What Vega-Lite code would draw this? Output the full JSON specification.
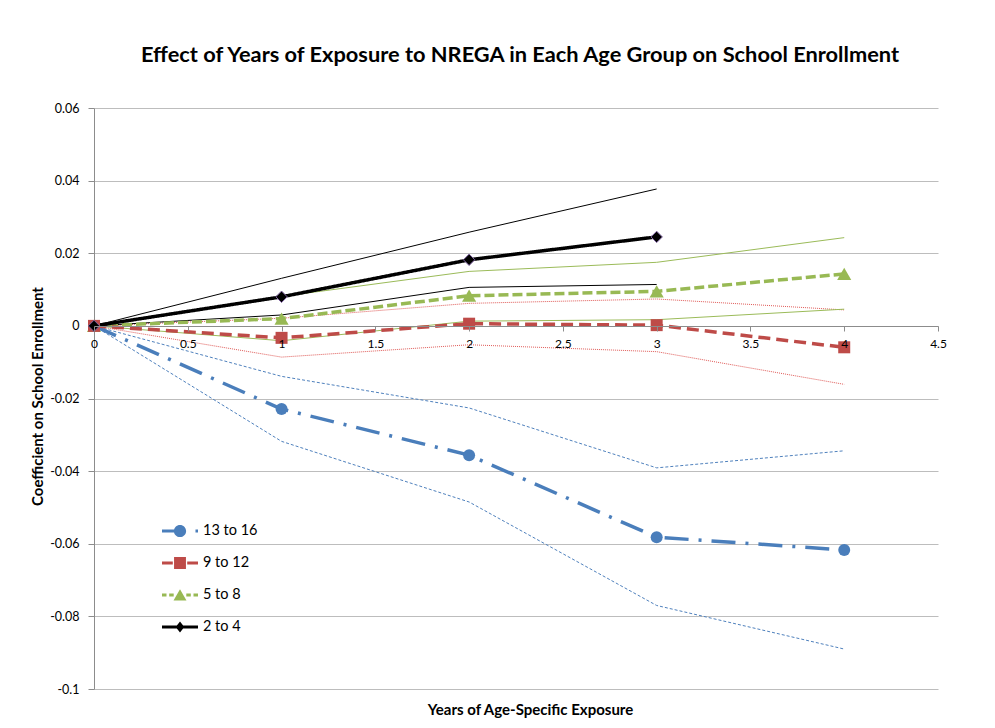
{
  "$schema": "https://vega.github.io/schema/vega-lite/v6.json",
  "width": 844,
  "height": 581,
  "autosize": {"type": "none"},
  "padding": {"left": 94, "top": 108, "right": 57, "bottom": 39},
  "background": "white",
  "config": {"view": {"stroke": null}, "font": "Lato"},
  "title": {
    "text": "Effect of Years of Exposure to NREGA in Each Age Group on School Enrollment",
    "fontSize": 21.8,
    "fontWeight": "bold",
    "font": "Lato",
    "color": "#000000",
    "anchor": "middle",
    "frame": "group",
    "baseline": "alphabetic",
    "offset": 18,
    "dx": 4
  },
  "data": {
    "values": [
      {"group": "13 to 16", "x": 0, "y": 0, "lo": 0, "hi": 0},
      {"group": "13 to 16", "x": 1, "y": -0.0229, "lo": -0.0318, "hi": -0.0139},
      {"group": "13 to 16", "x": 2, "y": -0.0356, "lo": -0.0485, "hi": -0.0226},
      {"group": "13 to 16", "x": 3, "y": -0.0582, "lo": -0.077, "hi": -0.0391},
      {"group": "13 to 16", "x": 4, "y": -0.0617, "lo": -0.089, "hi": -0.0344},
      {"group": "5 to 8", "x": 0, "y": 0, "lo": 0, "hi": 0},
      {"group": "5 to 8", "x": 1, "y": 0.002, "lo": -0.0041, "hi": 0.0081},
      {"group": "5 to 8", "x": 2, "y": 0.0083, "lo": 0.0013, "hi": 0.015},
      {"group": "5 to 8", "x": 3, "y": 0.0095, "lo": 0.0017, "hi": 0.0175},
      {"group": "5 to 8", "x": 4, "y": 0.0143, "lo": 0.0046, "hi": 0.0243},
      {"group": "9 to 12", "x": 0, "y": 0, "lo": 0, "hi": 0},
      {"group": "9 to 12", "x": 1, "y": -0.0033, "lo": -0.0086, "hi": 0.0021},
      {"group": "9 to 12", "x": 2, "y": 0.0006, "lo": -0.0052, "hi": 0.0062},
      {"group": "9 to 12", "x": 3, "y": 0.0002, "lo": -0.0071, "hi": 0.0074},
      {"group": "9 to 12", "x": 4, "y": -0.0059, "lo": -0.0161, "hi": 0.0044},
      {"group": "2 to 4", "x": 0, "y": 0, "lo": 0, "hi": 0},
      {"group": "2 to 4", "x": 1, "y": 0.008, "lo": 0.003, "hi": 0.0131},
      {"group": "2 to 4", "x": 2, "y": 0.0182, "lo": 0.0106, "hi": 0.0258},
      {"group": "2 to 4", "x": 3, "y": 0.0245, "lo": 0.0114, "hi": 0.0377}
    ]
  },
  "transform": [{"fold": ["y", "lo", "hi"], "as": ["bound", "val"]}],
  "encoding": {
    "x": {
      "field": "x",
      "type": "quantitative",
      "scale": {"domain": [0, 4.5], "nice": false, "zero": false},
      "axis": {
        "values": [0, 0.5, 1, 1.5, 2, 2.5, 3, 3.5, 4, 4.5],
        "labelExpr": "format(datum.value, '~g')",
        "offset": -363,
        "zindex": 1,
        "grid": false,
        "domainColor": "#8c8c8c",
        "domainWidth": 1,
        "tickColor": "#8c8c8c",
        "tickSize": 5,
        "labelFontSize": 12,
        "labelColor": "#000000",
        "labelPadding": 7,
        "labelFlush": false,
        "title": "Years of Age-Specific Exposure",
        "titleFontSize": 15,
        "titleFontWeight": "bold",
        "titleColor": "#000000",
        "titleX": 436,
        "titleAlign": "center",
        "titleY": 383,
        "titleBaseline": "middle"
      }
    },
    "y": {
      "field": "val",
      "type": "quantitative",
      "scale": {"domain": [-0.1, 0.06], "nice": false, "zero": false},
      "axis": {
        "values": [-0.1, -0.08, -0.06, -0.04, -0.02, 0, 0.02, 0.04, 0.06],
        "labelExpr": "replace(format(datum.value, '~g'), '−', '-')",
        "grid": true,
        "gridColor": "#bdbdbd",
        "gridWidth": 1,
        "domainColor": "#8c8c8c",
        "tickColor": "#8c8c8c",
        "tickSize": 6,
        "labelFontSize": 12.5,
        "labelColor": "#000000",
        "labelPadding": 9,
        "title": "Coefficient on School Enrollment",
        "titleFontSize": 15,
        "titleFontWeight": "bold",
        "titleColor": "#000000",
        "titleX": -57,
        "titleY": 288,
        "titleBaseline": "middle"
      }
    }
  },
  "layer": [
    {
      "transform": [{"filter": "datum.bound === 'y' && datum.x === 0"}],
      "mark": {"type": "point", "filled": true, "opacity": 0, "size": 1296, "strokeWidth": 0},
      "encoding": {
        "color": {
          "field": "group",
          "type": "nominal",
          "scale": {
            "domain": ["13 to 16", "9 to 12", "5 to 8", "2 to 4"],
            "range": ["#4A7EBB", "#BE4B48", "#98B954", "#000000"]
          },
          "legend": {
            "title": null,
            "orient": "none",
            "legendX": 68,
            "legendY": 405,
            "direction": "vertical",
            "symbolSize": 1296,
            "symbolStrokeWidth": 0,
            "symbolOpacity": 1,
            "labelFontSize": 14.5,
            "labelColor": "#000000",
            "labelOffset": 5,
            "rowPadding": 7,
            "padding": 0
          }
        },
        "shape": {
          "field": "group",
          "type": "nominal",
          "scale": {
            "domain": ["13 to 16", "9 to 12", "5 to 8", "2 to 4"],
            "range": [
              "M-1,-0.09H-0.3V0.09H-1Z M0.34,0A0.34,0.34 0 1 1 -0.34,0A0.34,0.34 0 1 1 0.34,0Z M0.86,-0.09H1V0.09H0.86Z",
              "M-1,-0.09H-0.4V0.09H-1Z M-0.33,-0.33H0.33V0.33H-0.33Z M0.4,-0.09H1V0.09H0.4Z",
              "M-1,-0.09H-0.75V0.09H-1Z M-0.6,-0.09H-0.35V0.09H-0.6Z M0,-0.32L0.36,0.3H-0.36Z M0.35,-0.09H0.6V0.09H0.35Z M0.75,-0.09H1V0.09H0.75Z",
              "M-1,-0.09H1V0.09H-1Z M0,-0.3L0.24,0L0,0.3L-0.24,0Z"
            ]
          }
        }
      }
    },
    {
      "transform": [{"filter": "datum.bound !== 'y' && datum.group === '13 to 16'"}],
      "mark": {"type": "line", "color": "#4F81BD", "strokeWidth": 1, "strokeDash": [3, 2]},
      "encoding": {"detail": {"field": "bound", "type": "nominal"}}
    },
    {
      "transform": [{"filter": "datum.bound !== 'y' && datum.group === '9 to 12'"}],
      "mark": {"type": "line", "color": "#E05A57", "strokeWidth": 1, "strokeDash": [1, 1]},
      "encoding": {"detail": {"field": "bound", "type": "nominal"}}
    },
    {
      "transform": [{"filter": "datum.bound !== 'y' && datum.group === '5 to 8'"}],
      "mark": {"type": "line", "color": "#9BBB59", "strokeWidth": 1},
      "encoding": {"detail": {"field": "bound", "type": "nominal"}}
    },
    {
      "transform": [{"filter": "datum.bound !== 'y' && datum.group === '2 to 4'"}],
      "mark": {"type": "line", "color": "#000000", "strokeWidth": 1},
      "encoding": {"detail": {"field": "bound", "type": "nominal"}}
    },
    {
      "transform": [{"filter": "datum.bound === 'y'"}],
      "mark": {"type": "line", "strokeWidth": 3.5},
      "encoding": {
        "color": {"field": "group", "type": "nominal"},
        "strokeDash": {
          "field": "group",
          "type": "nominal",
          "scale": {
            "domain": ["13 to 16", "9 to 12", "5 to 8", "2 to 4"],
            "range": [[24, 10, 3, 10], [12, 6], [10, 4], [1, 0]]
          },
          "legend": null
        }
      }
    },
    {
      "transform": [{"filter": "datum.bound === 'y' && datum.group === '13 to 16'"}],
      "mark": {"type": "point", "filled": true, "opacity": 1, "shape": "circle", "size": 144},
      "encoding": {"color": {"field": "group", "type": "nominal"}}
    },
    {
      "transform": [{"filter": "datum.bound === 'y' && datum.group === '5 to 8'"}],
      "mark": {"type": "point", "filled": true, "opacity": 1, "shape": "triangle-up", "size": 200},
      "encoding": {"color": {"field": "group", "type": "nominal"}}
    },
    {
      "transform": [{"filter": "datum.bound === 'y' && datum.group === '9 to 12'"}],
      "mark": {"type": "point", "filled": true, "opacity": 1, "shape": "square", "size": 144},
      "encoding": {"color": {"field": "group", "type": "nominal"}}
    },
    {
      "transform": [{"filter": "datum.bound === 'y' && datum.group === '2 to 4'"}],
      "mark": {"type": "point", "filled": true, "opacity": 1, "shape": "diamond", "size": 130, "stroke": "#8064A2", "strokeWidth": 1},
      "encoding": {"color": {"field": "group", "type": "nominal"}}
    }
  ]
}
